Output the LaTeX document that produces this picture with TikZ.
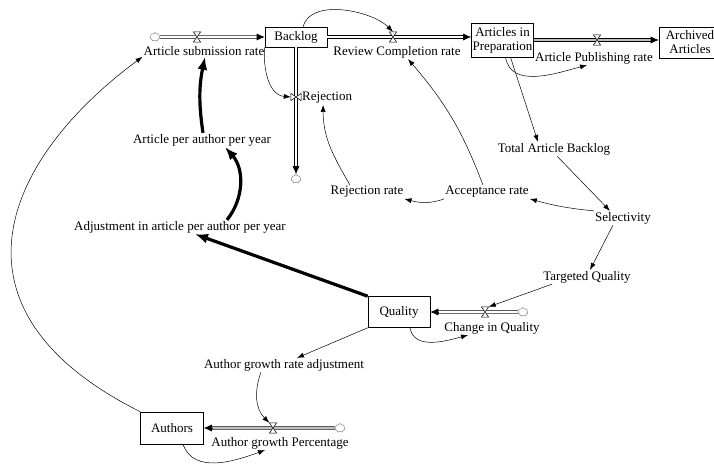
\documentclass[tikz,border=0pt]{standalone}
\usepackage{fontspec}
\setmainfont{Liberation Serif}
\usetikzlibrary{shapes.symbols, arrows.meta, positioning, calc}

\tikzset{
  stock/.style={draw, line width=0.6pt, minimum width=62pt, minimum height=20pt, inner sep=1pt, align=center},
  varname/.style={inner sep=1pt},
  link/.style={-{Latex[length=7pt,width=5pt]}, line width=0.5pt},
  boldlink/.style={-{Latex[length=13pt,width=10pt]}, line width=3.2pt},
  pipeline/.style={double, double distance=2pt, line width=0.6pt, shorten >=6pt},
  pipetip/.style={-{Latex[length=8pt,width=7pt]}, line width=0.6pt},
  valve/.style={minimum width=7pt, minimum height=10pt, inner sep=0pt},
  source/.style={cloud, cloud puffs=7, draw=gray, line width=0.5pt, minimum width=10pt, minimum height=9pt, inner sep=0pt}
}
\newcommand{\flowpipe}[3][]{%
  \draw[pipeline,#1] (#2) -- (#3);
  \draw[pipetip] ($(#3)!8pt!(#2)$) -- (#3);}

\begin{document}
\begin{tikzpicture}[x=1pt, y=1pt, every node/.style={font=\fontsize{13}{14}\selectfont}]
\clip (0,0) rectangle (714,469);

% Stocks and their flows
\node[source] (srcsub) at (155,432) {};
\node[stock] (backlog) at (296,432) {Backlog};
\node[stock, minimum width=61pt, minimum height=34pt] (prep) at (502.5,429) {Articles in\\Preparation};
\node[stock, minimum height=31pt] (arch) at (690,426.5) {Archived\\Articles};
\node[valve] (vsub) at (197,432) {};
\node[varname] (sub) at (204,418) {Article submission rate};
\node[valve] (vrev) at (393,432) {};
\node[varname] (rev) at (397,417) {Review Completion rate};
\node[valve] (vpub) at (597,429) {};
\node[varname] (pub) at (594,411) {Article Publishing rate};
\node[valve, minimum width=10pt, minimum height=7pt] (vrej) at (296,372) {};
\node[varname, anchor=west] (rejn) at (301,371) {Rejection};
\node[source] (sinkrej) at (296,290) {};

% Auxiliaries
\node[varname] (tab) at (554,320) {Total Article Backlog};
\node[varname] (sel) at (623,251) {Selectivity};
\node[varname] (acc) at (487,277) {Acceptance rate};
\node[varname] (rejrate) at (367,277) {Rejection rate};
\node[varname] (tq) at (587,192) {Targeted Quality};
\node[varname] (adj) at (180,242) {Adjustment in article per author per year};
\node[varname] (apapy) at (202,329) {Article per author per year};
\node[varname] (agra) at (284,104) {Author growth rate adjustment};

% Quality and Authors
\node[stock, minimum height=31pt] (quality) at (399,157) {Quality};
\node[valve] (vcq) at (485,157) {};
\node[source] (srcq) at (523,157) {};
\node[varname] (cq) at (492,141) {Change in Quality};
\node[stock, minimum width=63pt, minimum height=32pt] (authors) at (172,41) {Authors};
\node[valve] (vagp) at (273,41) {};
\node[source] (srcagp) at (340,41) {};
\node[varname] (agp) at (280,26) {Author growth Percentage};

% Pipes
\coordinate (prepin) at (backlog.east -| prep.west);
\coordinate (archin) at (prep.east -| arch.west);
\flowpipe{srcsub.east}{backlog.west}
\flowpipe{backlog.east}{prepin}
\flowpipe[double=gray!50]{prep.east}{archin}
\flowpipe{backlog.south}{sinkrej.north}
\flowpipe{srcq.west}{quality.east}
\flowpipe[double=gray!50]{srcagp.west}{authors.east}

% Valves
\foreach \v in {vsub,vrev,vpub,vcq,vagp}
  \draw[fill=white, line width=0.5pt] (\v.north west) -- (\v.north east) -- (\v.south west) -- (\v.south east) -- cycle;
\draw[fill=white, line width=0.5pt] (vrej.north west) -- (vrej.south west) -- (vrej.north east) -- (vrej.south east) -- cycle;

% Thin links
\draw[link] ([xshift=7pt]backlog.north) to[out=75,in=135,looseness=0.85] (vrev.north);
\draw[link] (backlog.south west) to[out=-95,in=175] (vrej.west);
\draw[link] ([xshift=3pt]prep.south) to[out=-80,in=195] ([xshift=-7pt]pub.south);
\draw[link] ([xshift=8pt]prep.south) -- ([xshift=-16pt]tab.north);
\draw[link] ([xshift=3pt]tab.south) -- ([xshift=-13pt]sel.north);
\draw[link] (sel.north west) to[bend left=5] (acc.south east);
\draw[link] (acc.south west) to[out=200,in=-15] (rejrate.south east);
\draw[link] ([xshift=-17pt]rejrate.north) to[out=120,in=-90] ([xshift=-4pt]rejn.south);
\draw[link] ([xshift=-4pt]acc.north) to[bend right=10] ([xshift=11pt]rev.south);
\draw[link] ([xshift=-10pt]sel.south) -- ([xshift=3pt]tq.north);
\draw[link] ([xshift=10pt]tq.south west) -- (vcq.north east);
\draw[link] ([xshift=11pt]quality.south) to[out=-80,in=195] ([xshift=-24pt]cq.south);
\draw[link] (quality.south west) -- ([xshift=13pt]agra.north);
\draw[link] ([xshift=-23pt]agra.south) to[out=-110,in=135] (vagp.north west);
\draw[link] ([xshift=11pt]authors.south) to[out=-70,in=200] ([xshift=-15pt]agp.south);
\draw[link] (authors.north west) .. controls (-63,159) and (3,309) .. (sub.south west);

% Bold links
\draw[boldlink] (quality.north west) -- ([xshift=15pt]adj.south);
\draw[boldlink] ([xshift=47pt]adj.north) to[bend right=40] ([xshift=23pt]apapy.south);
\draw[boldlink] ([xshift=1pt]apapy.north) to[bend left=10] ([xshift=1pt]sub.south);
\end{tikzpicture}
\end{document}
